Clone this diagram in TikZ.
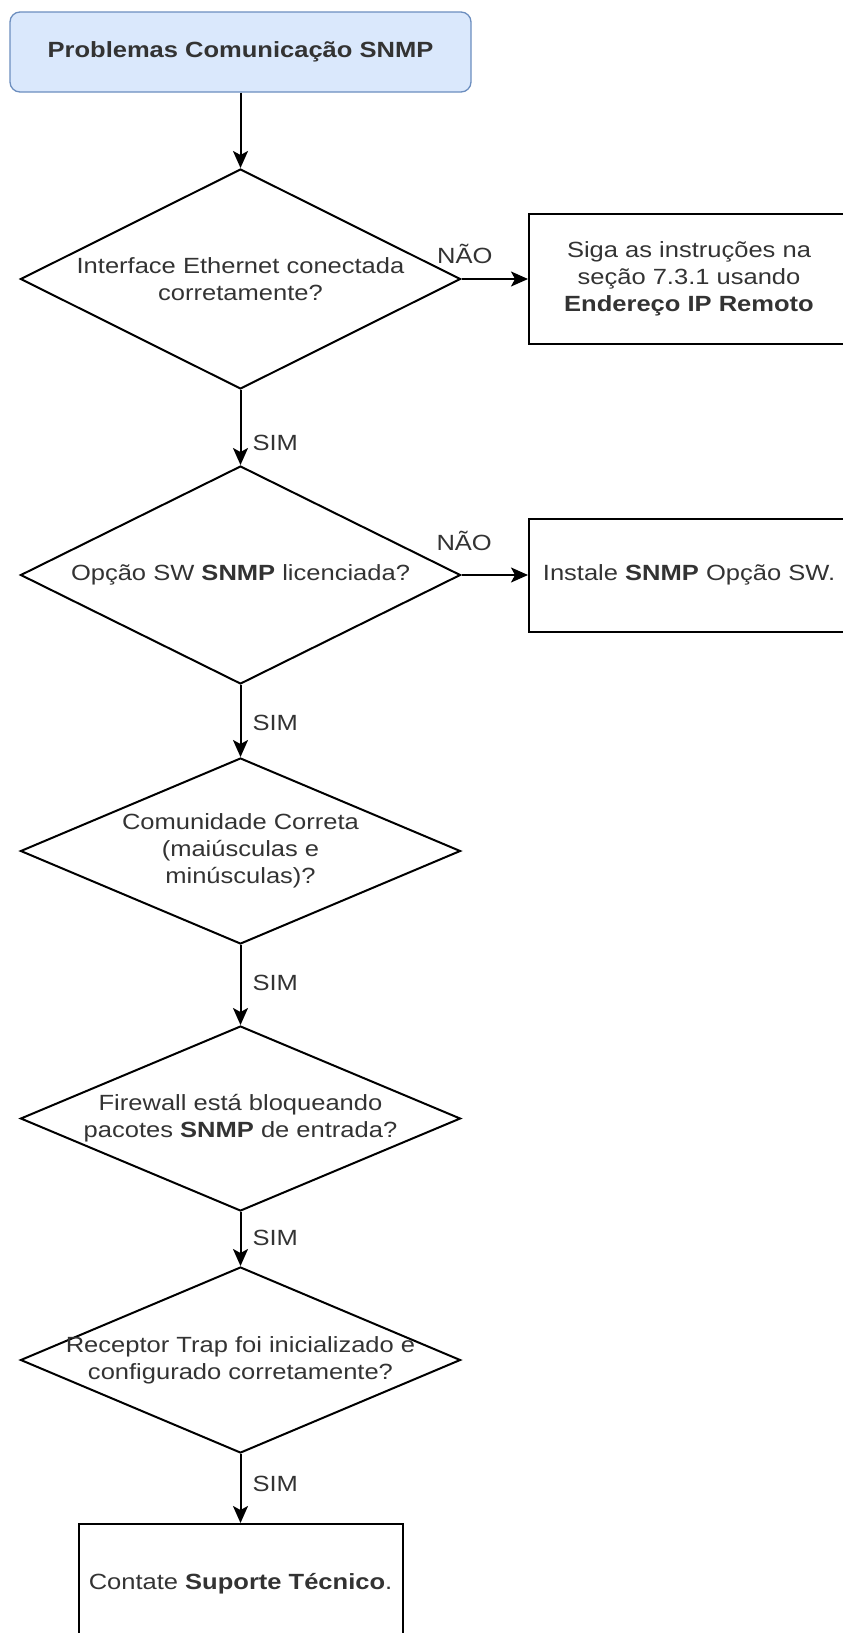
\documentclass[tikz,border=0pt]{standalone}
\usepackage{fontspec}
\setmainfont{Liberation Sans}[FakeStretch=1.16]
\usepackage{tikz}
\usetikzlibrary{shapes.geometric, arrows.meta, positioning}

\definecolor{startblau}{HTML}{DAE8FC}
\definecolor{startrand}{HTML}{6C8EBF}
\definecolor{textgrau}{HTML}{333333}

\tikzset{
	schrift/.style={font=\fontsize{22}{27}\selectfont, text=textgrau, align=center},
	startbox/.style={schrift, draw=startrand, fill=startblau, rounded corners=10pt, line width=1.3pt, minimum width=461pt, minimum height=80pt},
	kasten/.style={schrift, draw, line width=2pt, minimum width=320pt},
	raute/.style={diamond, draw, line width=2pt, minimum width=440pt, inner sep=0pt},
	pfeil/.style={line width=2pt, -{Stealth[length=17pt, width=15pt, inset=4pt]}},
	rotulo/.style={schrift, inner sep=0pt}
}

\begin{document}
\begin{tikzpicture}[x=1pt, y=-1pt]
			\useasboundingbox (0,0) rectangle (843,1633);
			\clip (0,0) rectangle (843,1633);
			
			% Start
			\node[startbox] (problema) at (240.5,52) {\textbf{Problemas Comunicação SNMP}};
			
			% Entscheidungen
			\node[raute, minimum height=220pt, label={[schrift]center:Interface Ethernet conectada\\corretamente?}] (ethernet) at (240.5,279) {};
			\node[raute, minimum height=218pt, label={[schrift]center:Opção SW \textbf{SNMP} licenciada?}] (licenca) at (240.5,575) {};
			\node[raute, minimum height=186pt, label={[schrift]center:Comunidade Correta\\(maiúsculas e\\minúsculas)?}] (comunidade) at (240.5,851) {};
			\node[raute, minimum height=185pt, label={[schrift]center:Firewall está bloqueando\\pacotes \textbf{SNMP} de entrada?}] (firewall) at (240.5,1118.5) {};
			\node[raute, minimum height=186pt, label={[schrift]center:Receptor Trap foi inicializado e\\configurado corretamente?}] (trap) at (240.5,1360) {};
			
			% Aktionen
			\node[kasten, minimum height=130pt] (instrucoes) at (689,279) {Siga as instruções na\\seção 7.3.1 usando\\\textbf{Endereço IP Remoto}};
			\node[kasten, minimum height=113pt] (instale) at (689,575) {Instale \textbf{SNMP} Opção SW.};
			\node[kasten, minimum width=324pt, minimum height=120pt] (suporte) at (240.5,1584) {Contate \textbf{Suporte Técnico}.};
			
			% Pfeile
			\draw[pfeil] (problema.south) -- (ethernet.north);
			\draw[pfeil] (ethernet.east) -- node[rotulo, pos=0.05, above=14pt] (nao1) {NÃO} (instrucoes.west);
			\draw[pfeil] (licenca.east) -- node[rotulo, pos=0.04, above=23pt] (nao2) {NÃO} (instale.west);
			
			\foreach \von/\nach/\p [count=\i] in {ethernet/licenca/0.7, licenca/comunidade/0.53, comunidade/firewall/0.48, firewall/trap/0.48, trap/suporte/0.43} {
				\draw[pfeil] (\von.south) -- node[rotulo, pos=\p, right=11pt] (sim\i) {SIM} (\nach.north);
			}
		\end{tikzpicture}
\end{document}
